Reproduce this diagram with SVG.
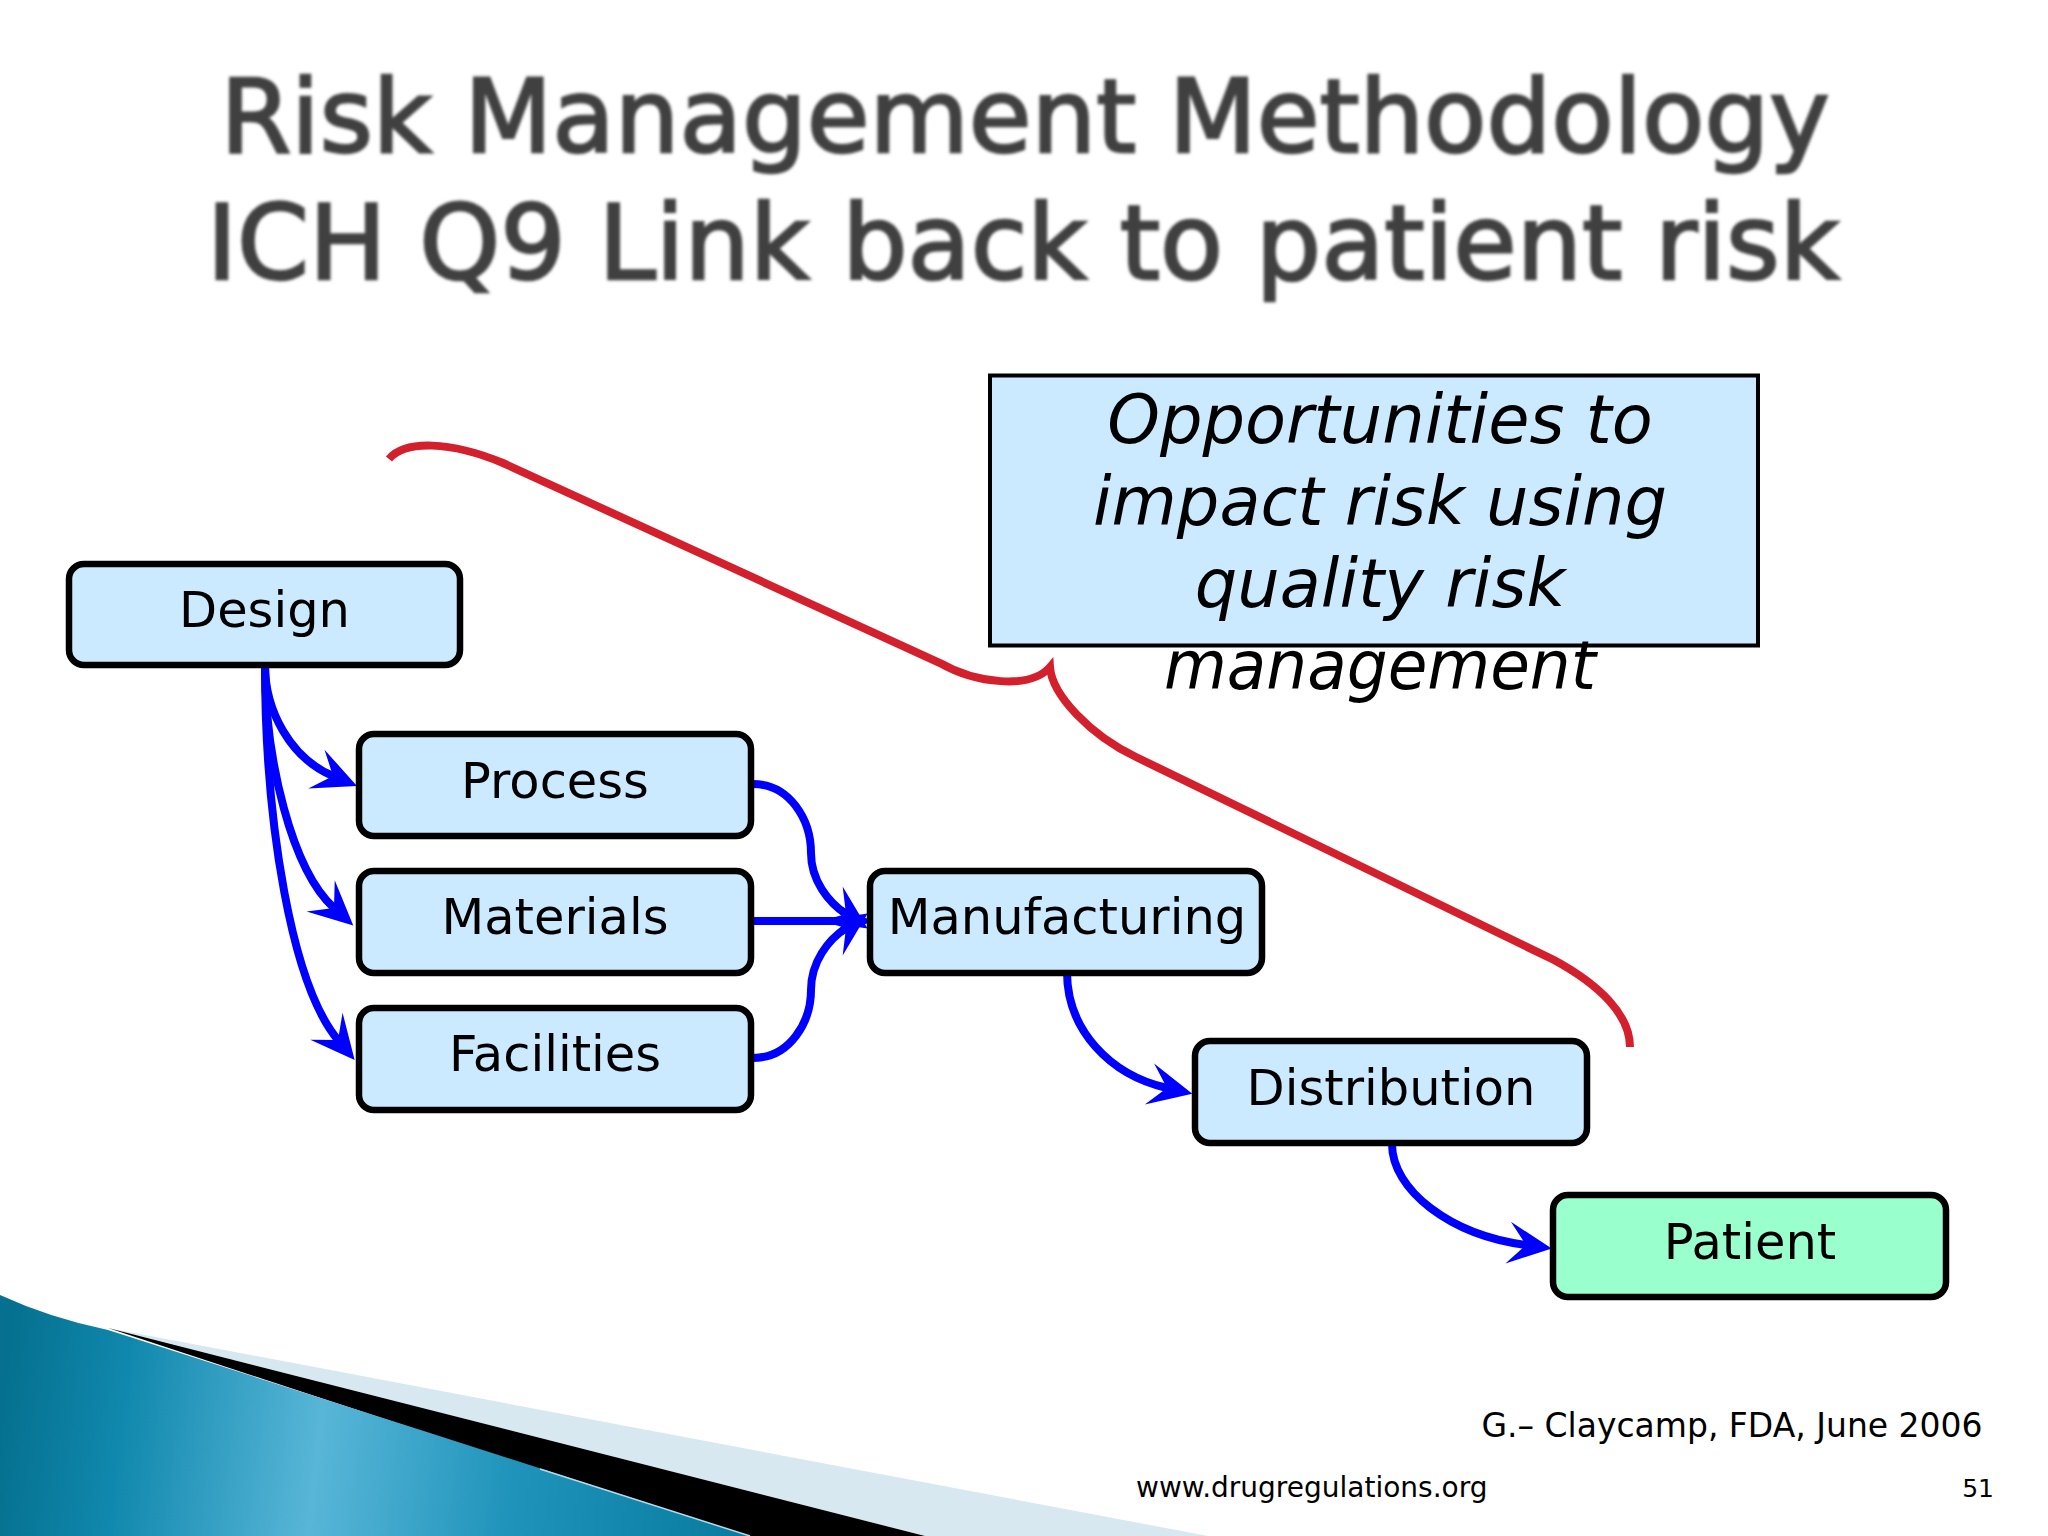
<svg xmlns="http://www.w3.org/2000/svg" width="2048" height="1536" viewBox="0 0 2048 1536">
<style>
text{font-family:"DejaVu Sans",sans-serif;fill:#000}
.box{fill:#cceaff;stroke:#000;stroke-width:6.500}
.lbl{font-size:49.500px;text-anchor:middle}
.title{font-size:102px;text-anchor:middle;fill:#404040;stroke:#404040;stroke-width:2.500;filter:url(#soft)}
.call{font-size:67px;font-style:italic;text-anchor:middle}
.con{fill:none;stroke:#0000ff;stroke-width:8;marker-end:url(#stealth)}
</style>
<defs>
<filter id="soft" x="-5%" y="-20%" width="110%" height="140%"><feGaussianBlur stdDeviation="1.500"/></filter>
<marker id="stealth" markerUnits="userSpaceOnUse" markerWidth="60" markerHeight="60" refX="24" refY="30" orient="auto"><path d="M50,30 L6,9 L24,30 L6,51 Z" fill="#0000ff"/></marker>
<linearGradient id="teal" gradientUnits="userSpaceOnUse" x1="0" y1="1400" x2="760" y2="1490">
<stop offset="0" stop-color="#05708f"/><stop offset="0.16" stop-color="#1088ad"/><stop offset="0.42" stop-color="#58b6d8"/><stop offset="0.68" stop-color="#1f93ba"/><stop offset="1" stop-color="#067a9e"/>
</linearGradient>
</defs>
<rect width="2048" height="1536" fill="#fff"/>
<g id="background">
<polygon points="108,1328 1208,1536 925,1536" fill="#d8e8f1"/>
<polygon points="108,1328 925,1536 740,1536" fill="#000"/>
<path d="M0,1295 Q50,1318 108,1330 L430,1433 L750,1536 L0,1536 Z" fill="url(#teal)"/>
<path d="M540,1469 L750,1536" fill="none" stroke="#b5dbe8" stroke-width="1.500"/>
</g>
<g id="title">
<text class="title" x="1025" y="152">Risk Management Methodology</text>
<text class="title" x="1023" y="279" style="font-size:103px">ICH Q9 Link back to patient risk</text>
</g>
<g id="connectors">
<path class="con" d="M265,665 C265,710 290,758 333,776"/>
<path class="con" d="M265,665 C265,760 292,870 334,908"/>
<path class="con" d="M265,665 C265,825 292,985 338,1040"/>
<path class="con" d="M753,784 C790,784 811,820 811,853 C811,880 828,902 846,914"/>
<path class="con" d="M753,921 L846,921"/>
<path class="con" d="M753,1058 C790,1058 811,1022 811,990 C811,962 828,940 846,928"/>
<path class="con" d="M1067,972 C1067,1030 1110,1075 1167,1088"/>
<path class="con" d="M1392,1144 C1392,1190 1450,1235 1526,1245"/>
<path id="bracket" fill="none" stroke="#d4202c" stroke-width="8" d="M389,459 C405,440 450,441 503,463 L940,663 C975,683 1030,690 1050,667 C1052,695 1090,735 1136,757 L1554,960 C1600,985 1630,1015 1630,1047"/>
</g>
<g id="design"><rect class="box" x="69" y="564" width="391" height="101" rx="15"/><text class="lbl" x="264.500" y="627">Design</text></g>
<g id="process"><rect class="box" x="359" y="734" width="392" height="102" rx="15"/><text class="lbl" x="555" y="798">Process</text></g>
<g id="materials"><rect class="box" x="359" y="871" width="392" height="102" rx="15"/><text class="lbl" x="555" y="934">Materials</text></g>
<g id="facilities"><rect class="box" x="359" y="1008" width="392" height="102" rx="15"/><text class="lbl" x="555" y="1071">Facilities</text></g>
<g id="manufacturing"><rect class="box" x="870" y="871" width="392" height="102" rx="15"/><text class="lbl" x="1067" y="934">Manufacturing</text></g>
<g id="distribution"><rect class="box" x="1195" y="1041" width="392" height="102" rx="15"/><text class="lbl" x="1391" y="1105">Distribution</text></g>
<g id="patient"><rect class="box" style="fill:#99ffcc" x="1553" y="1195" width="393" height="102" rx="15"/><text class="lbl" x="1750" y="1259">Patient</text></g>
<g id="callout">
<rect x="990" y="375.500" width="768" height="270" fill="#cceaff" stroke="#000" stroke-width="4"/>
<text class="call" x="1380" y="443">Opportunities to</text>
<text class="call" x="1380" y="525">impact risk using</text>
<text class="call" x="1380" y="607">quality risk</text>
<text class="call" x="1380" y="689" textLength="432" lengthAdjust="spacingAndGlyphs">management</text>
</g>
<g id="footer">
<text x="1732" y="1437" font-size="33" text-anchor="middle">G.– Claycamp, FDA, June 2006</text>
<text x="1136" y="1497" font-size="28">www.drugregulations.org</text>
<text x="1994" y="1497" font-size="25" text-anchor="end">51</text>
</g>
</svg>
